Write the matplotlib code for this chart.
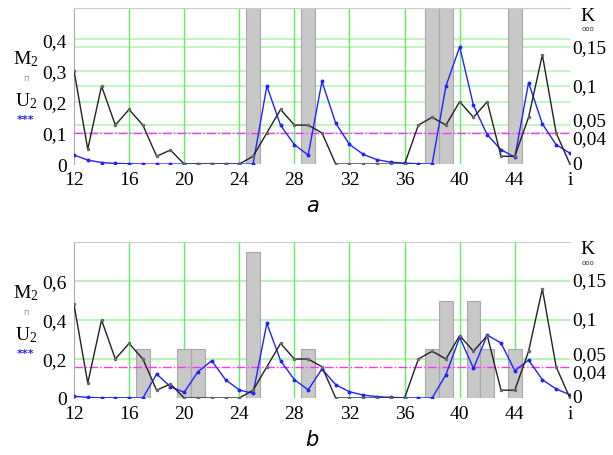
import matplotlib.pyplot as plt
from matplotlib.ticker import FuncFormatter

plt.rcParams['font.family'] = 'serif'
plt.rcParams['font.serif'] = ['Liberation Serif', 'DejaVu Serif']
plt.rcParams['mathtext.fontset'] = 'custom'
plt.rcParams['mathtext.rm'] = 'Liberation Serif'
plt.rcParams['mathtext.it'] = 'Liberation Serif:italic'

# indices i
i = list(range(12, 49))

# K (right axis), same in both panels
K = [0.12, 0.019, 0.1, 0.05, 0.07, 0.05, 0.01, 0.018, 0, 0, 0, 0, 0,
     0.01, 0.04, 0.07, 0.05, 0.05, 0.04, 0, 0, 0, 0, 0, 0,
     0.05, 0.06, 0.05, 0.08, 0.06, 0.08, 0.01, 0.01, 0.06, 0.14, 0.04, 0]

# U2 (left axis)
U2_a = [0.029, 0.013, 0.005, 0.002, 0.001, 0, 0, 0, 0, 0, 0, 0, 0,
        0, 0.25, 0.124, 0.062, 0.029, 0.265, 0.131, 0.063, 0.031, 0.014, 0.006, 0.003,
        0.001, 0, 0.25, 0.376, 0.188, 0.094, 0.046, 0.022, 0.261, 0.129, 0.062, 0.035]
U2_b = [0.009, 0.003, 0.001, 0.001, 0.001, 0, 0.123, 0.058, 0.029, 0.135, 0.191, 0.094, 0.041,
        0.024, 0.383, 0.191, 0.094, 0.042, 0.149, 0.068, 0.032, 0.015, 0.007, 0.003, 0.001,
        0, 0, 0.12, 0.311, 0.152, 0.323, 0.282, 0.14, 0.195, 0.094, 0.046, 0.017]

# M2 bars (left axis)
M2_a_x = [25, 29, 38, 39, 44]
M2_a = [0.5, 0.5, 0.5, 0.5, 0.5]
M2_b_x = [17, 20, 21, 25, 29, 38, 39, 41, 42, 44]
M2_b = [0.25, 0.25, 0.25, 0.75, 0.25, 0.25, 0.5, 0.5, 0.25, 0.25]

K_lim = 0.04
xticks = [12, 16, 20, 24, 28, 32, 36, 40, 44, 48]
xlabels = ['12', '16', '20', '24', '28', '32', '36', '40', '44', 'i']

fs = 14

fig = plt.figure(figsize=(6.13, 4.56), dpi=100)

panels = [
    (U2_a, M2_a_x, M2_a, 0.5, [0, 0.1, 0.2, 0.3, 0.4], [0.638, 0.342], 'a'),
    (U2_b, M2_b_x, M2_b, 0.8, [0, 0.2, 0.4, 0.6], [0.125, 0.342], 'b'),
]

comma = FuncFormatter(lambda v, p: ('%g' % round(v, 3)).replace('.', ','))

for U2, mx, M2, ymax, lticks, (bot, h), lab in panels:
    ax = fig.add_axes([0.1207, bot, 0.809, h])
    ratio = 0.2 / ymax

    # grid
    for t in lticks[1:]:
        ax.axhline(t, color='#b8f5b8', lw=1.2, zorder=0)
    for t in [0.05, 0.1, 0.15]:
        ax.axhline(t / ratio, color='#b8f5b8', lw=1.2, zorder=0)
    for t in xticks[1:-1]:
        ax.axvline(t, color='#66ee66', lw=1.0, zorder=0)

    ax.bar(mx, M2, width=1.0, color='#c8c8c8', edgecolor='#a8a8a8', lw=0.8, zorder=1)
    ax.axhline(K_lim / ratio, color='#ff33ff', lw=1.0, ls='-.', zorder=2)
    ax.plot(i, U2, color='#2222ff', lw=1.0, marker='o', ms=1.8, zorder=3)
    ax.plot(i, [k / ratio for k in K], color='#222222', lw=1.0, marker='o', ms=1.5,
            mfc='#888888', mec='#666666', zorder=4)

    ax.set_xlim(12, 48)
    ax.set_ylim(0, ymax)
    ax.set_xticks(xticks)
    ax.set_xticklabels(xlabels, fontsize=fs)
    ax.set_yticks(lticks)
    ax.yaxis.set_major_formatter(comma)
    ax.tick_params(length=0, labelsize=fs)
    ax.tick_params(axis='x', pad=5)
    ax.tick_params(axis='y', pad=5)
    for s in ['right', 'bottom']:
        ax.spines[s].set_visible(False)
    ax.spines['top'].set_color('#cccccc')
    ax.spines['left'].set_color('#aaaaaa')

    # right axis labels for K
    for k, dy in [(0.15, 0), (0.1, 0), (0.05, 3), (0.04, -4), (0, 0)]:
        ax.annotate(('%g' % k).replace('.', ','), xy=(1.0, k / ratio),
                    xycoords=('axes fraction', 'data'), xytext=(2, dy),
                    textcoords='offset points', ha='left', va='center',
                    fontsize=fs)
    ax.text(1.036, 1.01, 'K', transform=ax.transAxes, ha='center', va='top',
            fontsize=fs)
    ax.text(1.036, 0.875, 'ooo', transform=ax.transAxes, ha='center', va='center',
            fontsize=5, color='#333333', family='DejaVu Sans')

    # left legend
    ax.text(-0.097, 0.68, 'M$_2$', transform=ax.transAxes, ha='center', va='center',
            fontsize=fs)
    ax.text(-0.097, 0.555, 'п', transform=ax.transAxes, ha='center', va='center',
            fontsize=6, color='#999999', family='DejaVu Sans')
    ax.text(-0.097, 0.41, 'U$_2$', transform=ax.transAxes, ha='center', va='center',
            fontsize=fs)
    ax.text(-0.097, 0.29, '***', transform=ax.transAxes, ha='center', va='center',
            fontsize=8, color='#2222ff', fontweight='bold', family='DejaVu Sans')

    ax.text(0.48, -0.26, lab, transform=ax.transAxes, ha='center', va='center',
            fontsize=15, style='italic', family='DejaVu Sans')

fig.savefig('out.png', dpi=100)
